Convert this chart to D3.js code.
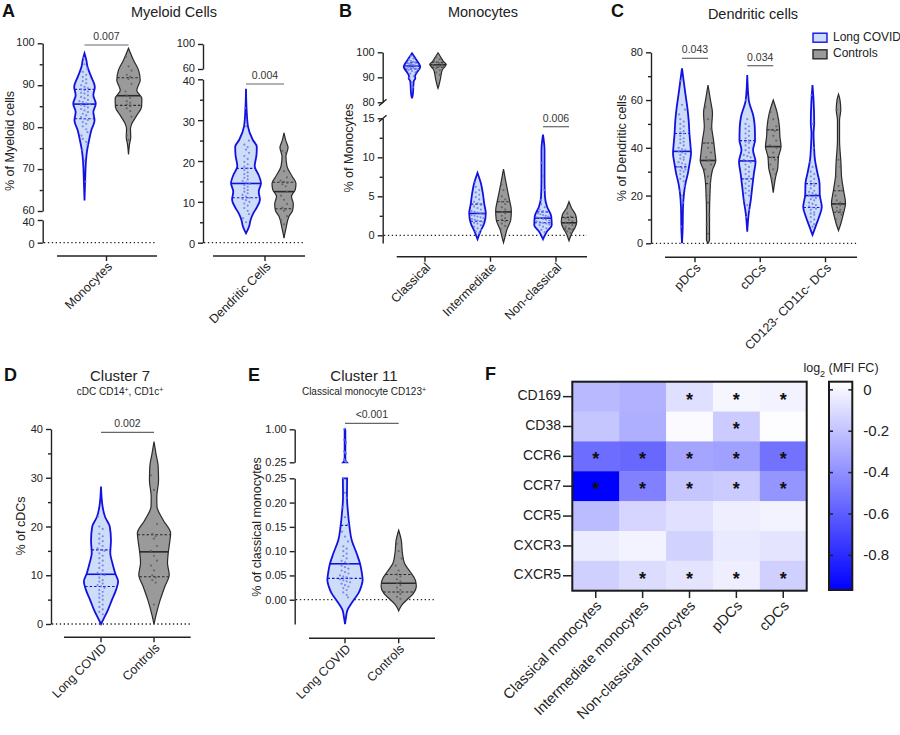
<!DOCTYPE html>
<html>
<head>
<meta charset="utf-8">
<style>
    body { margin: 0; background: #fff; }
    svg { font-family: "Liberation Sans", Arial, sans-serif; }
    .axis .domain, .axis line { stroke: #222; stroke-width: 1.4px; }
    .axis text { font-size: 11px; fill: #222; }
    .minor .domain { display: none; }
</style>
</head>
<body>
<svg width="900" height="735"></svg>
<script src="https://d3js.org/d3.v7.min.js"></script>
<script>
// ---------- data ----------
// shapes: [value, relative half-width]; stats: [median, q1, q3]

// Panel A - Myeloid cells
const aCategories = ["Monocytes", "Dendritic Cells"];
const aMonoLC = [96.5, 95, 94, 93.2, 92.5, 92, 91.4, 91, 90.5, 90, 89.6, 89.3, 89, 88.8, 88.5, 88.2, 88, 87.6, 87.2, 86.9, 86.5, 86.2, 86, 85.7, 85.5, 85.3, 85, 84.7, 84.3, 84, 83.6, 83.2, 82.8, 82.4, 82, 81.7, 81.2, 80.8, 80.2, 79.5, 78.8, 78, 77.2, 76.5, 75.8, 74.5, 72, 67];
const aMonoCtrl = [96.8, 94.5, 93.5, 92.5, 92, 91.5, 90.3, 88.5, 87.6, 87, 86.2, 85.8, 85.4, 85, 84.5, 83.8, 82.5, 78, 77];
const aMonoLCShape = [[97.6, 0], [96, 0.12], [94.4, 0.2], [92, 0.45], [89.6, 0.69], [87.6, 0.59], [85.6, 0.75], [83.6, 0.59], [81.6, 0.67], [79.2, 0.45], [76.8, 0.3], [74.4, 0.17], [72, 0.1], [68, 0.05], [62.5, 0]];
const aMonoCtrlShape = [[98.8, 0], [96, 0.33], [93.6, 0.67], [91.2, 0.78], [88.8, 0.55], [86.8, 0.89], [84.8, 0.87], [82.8, 0.55], [80.8, 0.22], [79.6, 0.13], [77.6, 0.15], [76, 0.07], [73.5, 0]];
const aMonoLCStats = [85.5, 82, 89];
const aMonoCtrlStats = [87.5, 85.2, 91.8];

const aDcLC = [33, 28.5, 25, 24, 23.4, 22.8, 22, 21.2, 20.5, 19.8, 19.2, 18.6, 18.2, 17.8, 17.2, 16.8, 16.3, 15.9, 15.5, 15.1, 14.7, 14.4, 14.1, 13.7, 13.3, 12.9, 12.5, 12.1, 11.7, 11.3, 11, 10.7, 10.4, 10, 9.6, 9.1, 8.5, 7.8, 7, 6, 5];
const aDcCtrl = [22.5, 22, 17.5, 16, 15.2, 14.9, 14.6, 14.3, 13.8, 12.5, 11.5, 10.5, 9.5, 8.6, 8.2, 7.8, 6.5, 5.5, 4.5];
const aDcLCShape = [[37.7, 0], [32, 0.05], [28.5, 0.13], [25.2, 0.45], [23.5, 0.72], [21.5, 0.7], [18.7, 0.58], [16.5, 0.85], [14.6, 1.0], [12.5, 0.85], [10.5, 0.93], [8.5, 0.7], [7.3, 0.5], [5.5, 0.3], [3.9, 0.2], [2.3, 0]];
const aDcCtrlShape = [[26.9, 0], [25, 0.12], [23.3, 0.27], [21.1, 0.13], [18.7, 0.2], [16.2, 0.55], [14.5, 0.8], [13, 0.75], [11.3, 0.5], [9.5, 0.62], [8, 0.58], [6.4, 0.33], [3.5, 0.13], [1.1, 0]];
const aDcLCStats = [14.5, 11, 18.2];
const aDcCtrlStats = [12.5, 8.3, 14.8];

// Panel B - Monocytes
const bCategories = ["Classical", "Intermediate", "Non-classical"];
const bClassLC = [98.5, 97.5, 97, 96.5, 96.2, 96, 95.7, 95.5, 95.3, 95.1, 94.9, 94.7, 94.5, 94.3, 94.1, 93.9, 93.7, 93.5, 93.2, 92.9, 92.5, 92, 91.5, 90.5, 89.8, 88, 86];
const bClassCtrl = [98, 97.2, 96.5, 96, 95.6, 95.3, 95, 94.7, 94.4, 94, 93.5, 92.8, 92, 91];
const bClassLCShape = [[99.6, 0], [97.6, 0.37], [95.6, 0.74], [94.2, 0.92], [92.2, 0.59], [90.5, 0.33], [89.6, 0.37], [88.5, 0.2], [87.6, 0.17], [83.6, 0.11], [81.6, 0]];
const bClassCtrlShape = [[99.8, 0], [98.2, 0.28], [96.2, 0.64], [95.2, 0.92], [92.9, 0.47], [89.6, 0.28], [86.9, 0.11], [85.6, 0]];
const bClassLCStats = [94.5, 93.3, 95.8];
const bClassCtrlStats = [95, 94, 96];

const bInterLC = [6.8, 6.2, 5.8, 5.5, 5.2, 4.9, 4.6, 4.3, 4.1, 3.9, 3.7, 3.5, 3.3, 3.1, 3, 2.9, 2.8, 2.7, 2.6, 2.5, 2.4, 2.3, 2.2, 2.1, 2, 1.9, 1.8, 1.7, 1.6, 1.5, 1.3, 1.1, 0.9, 0.7, 0.5, 0.3];
const bInterCtrl = [6.5, 5.8, 5, 4.6, 4.3, 4, 3.6, 3.3, 3, 2.8, 2.5, 2.2, 2, 1.8, 1.5, 1.2, 0.8];
const bInterLCShape = [[8.0, 0], [6.7, 0.37], [5.4, 0.59], [4.1, 0.74], [2.8, 0.92], [1.5, 0.74], [0.5, 0.33], [-0.5, 0]];
const bInterCtrlShape = [[8.5, 0], [7.1, 0.22], [5.8, 0.44], [4.5, 0.67], [3.2, 0.87], [2.0, 0.81], [0.7, 0.37], [-0.2, 0.17], [-0.95, 0]];
const bInterLCStats = [2.8, 1.8, 4.0];
const bInterCtrlStats = [3.0, 1.9, 4.3];

const bNonLC = [9.3, 7.6, 5.8, 4.5, 4, 3.6, 3.3, 3.1, 3, 2.8, 2.7, 2.6, 2.5, 2.4, 2.3, 2.2, 2.1, 2, 1.9, 1.8, 1.7, 1.6, 1.5, 1.4, 1.3, 1.1, 0.9, 0.7, 0.4];
const bNonCtrl = [3.5, 2.8, 2.4, 2.2, 2, 1.8, 1.6, 1.5, 1.3, 1.1, 0.9, 0.7, 0.5, 0.3];
const bNonLCShape = [[12.9, 0], [10.9, 0.17], [7.1, 0.17], [4.9, 0.22], [3.7, 0.44], [2.4, 0.92], [1.3, 0.97], [0.5, 0.44], [-0.5, 0]];
const bNonCtrlShape = [[4.3, 0], [3.5, 0.28], [2.6, 0.74], [1.7, 0.86], [0.9, 0.64], [0.3, 0.33], [-0.7, 0]];
const bNonLCStats = [2.2, 1.6, 3.0];
const bNonCtrlStats = [1.6, 0.8, 2.3];

// Panel C - Dendritic cells
const cCategories = ["pDCs", "cDCs", "CD123- CD11c- DCs"];
const cPdcLC = [68, 58, 56, 54, 52, 51, 50, 49, 48, 47, 46.5, 46, 45, 44, 43.5, 42.5, 42, 41, 40, 39.5, 39, 38.5, 38, 37.5, 37, 36, 35.5, 35, 34, 33.5, 33, 32, 31.5, 31, 30.5, 30, 29, 28, 27, 26, 24, 22, 20, 17, 7];
const cPdcCtrl = [57, 52, 48, 42, 40, 38, 36, 35, 34.5, 33, 31, 28, 25, 20, 17, 12, 8, 4];
const cPdcLCShape = [[73.3, 0], [67, 0.21], [62.8, 0.35], [57.2, 0.55], [51.6, 0.7], [46.1, 0.78], [40.5, 0.9], [37.7, 0.95], [33.5, 0.8], [29.3, 0.62], [25.1, 0.37], [20.9, 0.21], [15.3, 0.11], [5, 0.06], [0, 0]];
const cPdcCtrlShape = [[66.3, 0], [60, 0.26], [54.5, 0.47], [48.8, 0.39], [43.3, 0.58], [37.7, 0.74], [34.6, 0.82], [30.7, 0.47], [26.5, 0.29], [20.9, 0.21], [12.6, 0.16], [1.4, 0.16], [0, 0]];
const cPdcLCStats = [38.5, 32, 46];
const cPdcCtrlStats = [34.7, 25, 42];

const cCdcLC = [60, 52, 50, 49, 48, 47, 46, 45, 44, 43, 42.5, 42, 41, 40, 39, 38, 37, 36.5, 36, 35, 34.5, 34, 33, 32, 31, 30, 29, 28, 27, 26, 25, 24, 23, 22, 21, 20, 18, 16, 14, 11];
const cCdcCtrl = [55, 52, 49, 47.5, 47, 45, 43, 41, 40.5, 40, 38, 36, 35, 33, 31, 29, 27];
const cCdcLCShape = [[70.5, 0], [60, 0.16], [53, 0.66], [48.8, 0.79], [43.3, 0.82], [39.1, 0.61], [34.2, 0.87], [29.3, 0.7], [23.7, 0.53], [18.1, 0.37], [12.6, 0.16], [4.9, 0]];
const cCdcCtrlShape = [[60, 0], [54.5, 0.42], [48.8, 0.65], [44.7, 0.7], [40.5, 0.82], [36.3, 0.56], [31.4, 0.47], [27.9, 0.26], [21.2, 0]];
const cCdcLCStats = [34.5, 27, 43];
const cCdcCtrlStats = [40.5, 36, 47.5];

const cDnLC = [62, 50, 40, 34, 32, 30, 29, 28, 27, 26, 25, 24.5, 24, 23, 22, 21.5, 21, 20.5, 20, 19.5, 19, 18.5, 18, 17, 16.5, 16, 15.5, 15, 14.5, 14, 13, 12.5, 12, 11, 10, 9, 8, 7];
const cDnCtrl = [56, 35, 32, 28, 24, 22, 20, 18, 17, 16.5, 16, 15, 14, 13.5, 13, 12, 10];
const cDnLCShape = [[66.3, 0], [60, 0.11], [50.3, 0.18], [46.1, 0.11], [40.5, 0.16], [34.9, 0.26], [29.3, 0.53], [25.1, 0.74], [20.2, 0.77], [15.3, 0.98], [11.1, 0.7], [7, 0.32], [3.5, 0]];
const cDnCtrlShape = [[62.5, 0], [60, 0.16], [55.8, 0.24], [51.6, 0.11], [43.3, 0.11], [33.5, 0.26], [27.9, 0.32], [22.3, 0.53], [16.7, 0.74], [12.6, 0.53], [8.4, 0.26], [5.3, 0]];
const cDnLCStats = [20, 15, 25];
const cDnCtrlStats = [16.5, 13, 22];

// Panel D - Cluster 7
const groups = ["Long COVID", "Controls"];
const dLC = [22, 20, 19.5, 18.5, 18, 17.5, 17, 16.5, 16, 15.5, 15.2, 15, 14.5, 14, 13.5, 13, 12.5, 12, 11.5, 11, 10.5, 10.2, 10, 9.5, 9, 8.7, 8.3, 8, 7.7, 7.4, 7, 6.6, 6.2, 5.8, 5.4, 5, 4.5, 4, 3.5, 3, 2.5, 2];
const dCtrl = [30.5, 27.5, 20.5, 18.5, 18, 17.5, 16, 15, 14, 13, 12, 11, 10, 9.5, 9, 8.5, 4];
const dLCShape = [[28.2, 0], [24.1, 0.09], [22, 0.23], [20, 0.5], [17.2, 0.57], [14.5, 0.53], [12.5, 0.65], [10.4, 0.81], [8.7, 0.98], [7, 0.86], [4.9, 0.62], [2.9, 0.4], [1.2, 0.17], [0, 0]];
const dCtrlShape = [[37.4, 0], [35, 0.11], [32.3, 0.24], [29.5, 0.26], [26.1, 0.16], [24.1, 0.17], [21.3, 0.53], [18.6, 0.95], [16.6, 0.89], [14.5, 0.81], [12.5, 0.77], [10.1, 0.87], [7.7, 0.62], [4.9, 0.35], [2.2, 0.14], [0, 0]];
const dLCStats = [10.2, 7.7, 15.2];
const dCtrlStats = [14.8, 9.7, 18.3];

// Panel E - Cluster 11
const eLC = [0.25, 0.22, 0.21, 0.19, 0.17, 0.155, 0.14, 0.13, 0.12, 0.11, 0.105, 0.1, 0.095, 0.09, 0.085, 0.08, 0.077, 0.074, 0.07, 0.067, 0.064, 0.06, 0.057, 0.054, 0.05, 0.048, 0.046, 0.044, 0.042, 0.04, 0.038, 0.036, 0.033, 0.03, 0.027, 0.024, 0.02, 0.015, 0.01, 0.005];
const eLCHigh = [1.0, 0.76, 0.72, 0.68, 0.5, 0.47, 0.45, 0.32, 0.3, 0.28, 0.27, 0.26];
const eCtrl = [0.115, 0.1, 0.085, 0.07, 0.06, 0.052, 0.048, 0.042, 0.038, 0.034, 0.03, 0.025, 0.02, 0.016, 0.012, 0.006, 0.002];
const eLCShape = [[0.25, 0.12], [0.212, 0.11], [0.178, 0.17], [0.15, 0.25], [0.123, 0.37], [0.095, 0.65], [0.075, 0.83], [0.054, 0.94], [0.04, 0.98], [0.027, 0.9], [0.013, 0.74], [-0.004, 0.42], [-0.021, 0.14], [-0.038, 0.05], [-0.05, 0]];
const eLCHighShape = [[1.0, 0], [0.98, 0.02], [0.3, 0.02], [0.25, 0.1]];
const eCtrlShape = [[0.143, 0], [0.123, 0.14], [0.095, 0.21], [0.075, 0.32], [0.058, 0.63], [0.04, 0.93], [0.027, 0.98], [0.013, 0.82], [0, 0.46], [-0.011, 0.17], [-0.023, 0]];
const eLCStats = [0.074, 0.044, 0.153];
const eCtrlStats = [0.034, 0.016, 0.052];

// Panel F - heatmap
const heatRows = ["CD169", "CD38", "CCR6", "CCR7", "CCR5", "CXCR3", "CXCR5"];
const heatCols = ["Classical monocytes", "Intermediate monocytes", "Non-classical monocytes", "pDCs", "cDCs"];
const heatValues = [
    [-0.24, -0.27, -0.09, 0.0, -0.01],
    [-0.19, -0.28, 0.02, -0.17, 0.03],
    [-0.54, -0.56, -0.32, -0.34, -0.52],
    [-0.97, -0.46, -0.19, -0.17, -0.38],
    [-0.23, -0.13, -0.08, -0.03, -0.01],
    [-0.04, -0.01, -0.14, -0.05, -0.07],
    [-0.15, -0.10, -0.07, -0.03, -0.15]
];
const heatStars = [
    [0, 0, 1, 1, 1],
    [0, 0, 0, 1, 0],
    [1, 1, 1, 1, 1],
    [1, 1, 1, 1, 1],
    [0, 0, 0, 0, 0],
    [0, 0, 0, 0, 0],
    [0, 1, 1, 1, 1]
];
const colorbarTicks = [0, -0.2, -0.4, -0.6, -0.8];

// ---------- drawing ----------
const svg = d3.select("svg");
const BLUE = "#1212e0", BLUE_FILL = "#cddcf8", BLUE_DOT = "#6b7be6";
const GRAY_STROKE = "#2a2a2a", GRAY_FILL = "#9a9a9a", GRAY_DOT = "#5e5e5e";

function hwAt(shape, v) {
    for (let i = 0; i < shape.length - 1; i++) {
        const a = shape[i], b = shape[i + 1];
        if (v <= a[0] && v >= b[0]) {
            const t = (a[0] - v) / (a[0] - b[0] || 1);
            return a[1] + t * (b[1] - a[1]);
        }
    }
    return 0;
}

function violin(g, y, cx, maxHW, shape, values, stats, lc) {
    const area = d3.area().curve(d3.curveMonotoneY)
        .y(d => y(d[0]))
        .x0(d => cx - d[1] * maxHW)
        .x1(d => cx + d[1] * maxHW);
    g.append("path").attr("d", area(shape))
        .attr("fill", lc ? BLUE_FILL : GRAY_FILL)
        .attr("stroke", lc ? BLUE : GRAY_STROKE)
        .attr("stroke-width", lc ? 1.8 : 1.2);
    if (stats) {
        stats.forEach((s, i) => {
            const w = hwAt(shape, s) * maxHW;
            g.append("line")
                .attr("x1", cx - w).attr("x2", cx + w)
                .attr("y1", y(s)).attr("y2", y(s))
                .attr("stroke", lc ? BLUE : GRAY_STROKE)
                .attr("stroke-width", i === 0 ? 1.6 : 1.1)
                .attr("stroke-dasharray", i === 0 ? null : "2.5,2");
        });
    }
    // simple deterministic swarm of the points
    const pts = values.map(v => ({ v, py: y(v) })).sort((a, b) => a.py - b.py);
    const bins = [];
    let cur = null;
    pts.forEach(p => {
        if (cur && p.py - cur[0].py < 3.2) cur.push(p);
        else { cur = [p]; bins.push(cur); }
    });
    bins.forEach((b, bi) => {
        const hw = Math.max(1, hwAt(shape, b[0].v) * maxHW * 0.75);
        const step = b.length > 1 ? Math.min(3.4, 2 * hw / (b.length - 1)) : 0;
        const shift = b.length === 1 ? ((bi % 3) - 1) * Math.min(hw, 3) : 0;
        b.forEach((p, i) => {
            g.append("circle")
                .attr("cx", cx + shift + (i - (b.length - 1) / 2) * step)
                .attr("cy", p.py)
                .attr("r", 1.1)
                .attr("fill", lc ? BLUE_DOT : GRAY_DOT)
                .attr("opacity", 0.85);
        });
    });
}

function yAxis(g, x, scale, ticks, minor, fmt, dy) {
    const ax = g.append("g").attr("class", "axis").attr("transform", `translate(${x},0)`)
        .call(d3.axisLeft(scale).tickValues(ticks).tickSizeInner(5).tickSizeOuter(0)
            .tickPadding(3).tickFormat(fmt || d3.format("d")));
    if (dy) ax.selectAll(".tick text").attr("transform", `translate(0,${dy})`);
    if (minor) {
        g.append("g").attr("class", "axis minor").attr("transform", `translate(${x},0)`)
            .call(d3.axisLeft(scale).tickValues(minor).tickSizeInner(3).tickSizeOuter(0).tickFormat(""));
    }
}

function yTitle(g, x, y, text) {
    g.append("text").attr("transform", `translate(${x},${y}) rotate(-90)`)
        .attr("text-anchor", "middle").attr("font-size", 12.5).attr("fill", "#222").text(text);
}

function catAxis(g, y, x0, x1, xs, labels) {
    g.append("line").attr("x1", x0).attr("x2", x1).attr("y1", y).attr("y2", y)
        .attr("stroke", "#222").attr("stroke-width", 1.5);
    labels.forEach(l => {
        const t = xs(l);
        g.append("line").attr("x1", t).attr("x2", t).attr("y1", y).attr("y2", y + 5)
            .attr("stroke", "#222").attr("stroke-width", 1.4);
        g.append("text").attr("transform", `translate(${t + 4},${y + 9}) rotate(-45)`)
            .attr("text-anchor", "end").attr("dominant-baseline", "middle")
            .attr("font-size", 12.5).attr("fill", "#222").text(l);
    });
}

function zeroLine(g, y, x0, x1) {
    g.append("line").attr("x1", x0).attr("x2", x1).attr("y1", y).attr("y2", y)
        .attr("stroke", "#222").attr("stroke-width", 1.3).attr("stroke-dasharray", "1.3,2.6");
}

function sig(g, x0, x1, y, text) {
    g.append("line").attr("x1", x0).attr("x2", x1).attr("y1", y).attr("y2", y)
        .attr("stroke", "#666").attr("stroke-width", 1.2);
    g.append("text").attr("x", (x0 + x1) / 2).attr("y", y - 5).attr("text-anchor", "middle")
        .attr("font-size", 10.5).attr("fill", "#333").text(text);
}

function letter(x, y, t) {
    svg.append("text").attr("x", x).attr("y", y).attr("font-size", 18).attr("font-weight", "bold")
        .attr("fill", "#111").text(t);
}

function title(x, y, t, size) {
    svg.append("text").attr("x", x).attr("y", y).attr("text-anchor", "middle")
        .attr("font-size", size || 14.5).attr("fill", "#222").text(t);
}

// ---- Panel A ----
letter(2, 17, "A");
title(174, 17, "Myeloid Cells");
{
    const g = svg.append("g");
    // monocytes subplot
    const yU = d3.scaleLinear().domain([60, 100]).range([211, 43.3]);
    const yL = d3.scaleLinear().domain([0, 40]).range([242.7, 220]);
    yAxis(g, 42.7, yU, [60, 70, 80, 90, 100], [65, 75, 85, 95], null, -1.5);
    yAxis(g, 42.7, yL, [0, 40], null, null, 1.5);
    yTitle(g, 14, 141, "% of Myeloid cells");
    zeroLine(g, yL(0), 44, 157);
    const xs = d3.scalePoint().domain([aCategories[0]]).range([106.5, 106.5]);
    catAxis(g, 256, 57, 157, xs, [aCategories[0]]);
    violin(g, yU, xs(aCategories[0]) - 22, 15, aMonoLCShape, aMonoLC, aMonoLCStats, true);
    violin(g, yU, xs(aCategories[0]) + 22, 15, aMonoCtrlShape, aMonoCtrl, aMonoCtrlStats, false);
    sig(g, 84.5, 128.5, 45, "0.007");

    // dendritic cells subplot
    const yU2 = d3.scaleLinear().domain([60, 100]).range([69, 44]);
    const yL2 = d3.scaleLinear().domain([0, 40]).range([242.7, 79.3]);
    yAxis(g, 203, yU2, [60, 100], null, null, -1.5);
    yAxis(g, 203, yL2, [0, 10, 20, 30, 40], [5, 15, 25, 35], null, 1.5);
    zeroLine(g, yL2(0), 204, 305);
    const xs2 = d3.scalePoint().domain([aCategories[1]]).range([265, 265]);
    catAxis(g, 256, 213, 305, xs2, [aCategories[1]]);
    violin(g, yL2, xs2(aCategories[1]) - 19, 15, aDcLCShape, aDcLC, aDcLCStats, true);
    violin(g, yL2, xs2(aCategories[1]) + 19, 15, aDcCtrlShape, aDcCtrl, aDcCtrlStats, false);
    sig(g, 246, 284, 84, "0.004");
}

// ---- Panel B ----
letter(339, 17, "B");
title(483, 17, "Monocytes");
{
    const g = svg.append("g");
    const yU = d3.scaleLinear().domain([80, 100]).range([102.3, 52.3]);
    const yL = d3.scaleLinear().domain([-1, 15]).range([243.1, 118.3]);
    yAxis(g, 382.7, yU, [80, 90, 100]);
    yAxis(g, 382.7, yL, [0, 5, 10, 15], [2.5, 7.5, 12.5]);
    [[102.3], [118.3]].forEach(([yy]) => {
        g.append("line").attr("x1", 379).attr("x2", 386.5).attr("y1", yy + 3.5).attr("y2", yy - 3)
            .attr("stroke", "#222").attr("stroke-width", 1.4);
    });
    yTitle(g, 353, 148, "% of Monocytes");
    zeroLine(g, yL(0), 384, 587);
    const xs = d3.scalePoint().domain(bCategories).range([425, 556]);
    catAxis(g, 256.7, 396.7, 587, xs, bCategories);
    const off = 13, mw = 9;
    violin(g, yU, xs("Classical") - off, mw, bClassLCShape, bClassLC, bClassLCStats, true);
    violin(g, yU, xs("Classical") + off, mw, bClassCtrlShape, bClassCtrl, bClassCtrlStats, false);
    violin(g, yL, xs("Intermediate") - off, mw, bInterLCShape, bInterLC, bInterLCStats, true);
    violin(g, yL, xs("Intermediate") + off, mw, bInterCtrlShape, bInterCtrl, bInterCtrlStats, false);
    violin(g, yL, xs("Non-classical") - off, mw, bNonLCShape, bNonLC, bNonLCStats, true);
    violin(g, yL, xs("Non-classical") + off, mw, bNonCtrlShape, bNonCtrl, bNonCtrlStats, false);
    sig(g, xs("Non-classical") - off, xs("Non-classical") + off, 126.7, "0.006");
}

// ---- Panel C ----
letter(611, 17, "C");
title(753, 19, "Dendritic cells");
{
    const g = svg.append("g");
    const y = d3.scaleLinear().domain([0, 80]).range([243.3, 52.3]);
    yAxis(g, 651, y, [0, 20, 40, 60, 80], [10, 30, 50, 70]);
    yTitle(g, 626, 148, "% of Dendritic cells");
    zeroLine(g, y(0), 652, 857);
    const xs = d3.scalePoint().domain(cCategories).range([695, 825.5]);
    catAxis(g, 257.3, 665, 857, xs, cCategories);
    const off = 13, mw = 9.5;
    violin(g, y, xs("pDCs") - off, mw, cPdcLCShape, cPdcLC, cPdcLCStats, true);
    violin(g, y, xs("pDCs") + off, mw, cPdcCtrlShape, cPdcCtrl, cPdcCtrlStats, false);
    violin(g, y, xs("cDCs") - off, mw, cCdcLCShape, cCdcLC, cCdcLCStats, true);
    violin(g, y, xs("cDCs") + off, mw, cCdcCtrlShape, cCdcCtrl, cCdcCtrlStats, false);
    violin(g, y, xs(cCategories[2]) - off, mw, cDnLCShape, cDnLC, cDnLCStats, true);
    violin(g, y, xs(cCategories[2]) + off, mw, cDnCtrlShape, cDnCtrl, cDnCtrlStats, false);
    sig(g, xs("pDCs") - off, xs("pDCs") + off, 58.3, "0.043");
    sig(g, xs("cDCs") - off, xs("cDCs") + off, 65.7, "0.034");

    // legend
    groups.forEach((n, i) => {
        const yy = 37.7 + i * 16.6;
        g.append("rect").attr("x", 813).attr("y", yy - 4.5).attr("width", 14).attr("height", 9)
            .attr("fill", i === 0 ? BLUE_FILL : GRAY_FILL)
            .attr("stroke", i === 0 ? BLUE : GRAY_STROKE).attr("stroke-width", 1.4);
        g.append("text").attr("x", 833).attr("y", yy).attr("dominant-baseline", "middle")
            .attr("font-size", 12).attr("fill", "#222").text(n);
    });
}

// ---- Panel D ----
letter(4, 381, "D");
title(120, 381, "Cluster 7", 15);
{
    const sub = svg.append("text").attr("x", 120).attr("y", 395).attr("text-anchor", "middle")
        .attr("font-size", 10).attr("fill", "#222");
    sub.append("tspan").text("cDC CD14");
    sub.append("tspan").attr("baseline-shift", "super").attr("font-size", 7).text("+");
    sub.append("tspan").text(", CD1c");
    sub.append("tspan").attr("baseline-shift", "super").attr("font-size", 7).text("+");

    const g = svg.append("g");
    const y = d3.scaleLinear().domain([0, 40]).range([624, 429]);
    yAxis(g, 51, y, [0, 10, 20, 30, 40], [5, 15, 25, 35]);
    yTitle(g, 25, 526, "% of cDCs");
    zeroLine(g, y(0), 52, 191);
    const xs = d3.scalePoint().domain(groups).range([101, 154]);
    catAxis(g, 637.3, 64, 190.7, xs, groups);
    violin(g, y, xs(groups[0]), 17.5, dLCShape, dLC, dLCStats, true);
    violin(g, y, xs(groups[1]), 17.5, dCtrlShape, dCtrl, dCtrlStats, false);
    sig(g, xs(groups[0]), xs(groups[1]), 432.3, "0.002");
}

// ---- Panel E ----
letter(248, 381, "E");
title(364, 381, "Cluster 11", 15);
{
    const sub = svg.append("text").attr("x", 364).attr("y", 395).attr("text-anchor", "middle")
        .attr("font-size", 10).attr("fill", "#222");
    sub.append("tspan").text("Classical monocyte CD123");
    sub.append("tspan").attr("baseline-shift", "super").attr("font-size", 7).text("+");

    const g = svg.append("g");
    const yU = d3.scaleLinear().domain([0.25, 1.0]).range([462.3, 429.3]);
    const yL = d3.scaleLinear().domain([-0.05, 0.25]).range([624, 478.3]);
    const f2 = d3.format(".2f");
    yAxis(g, 294.7, yU, [0.25, 1.0], null, f2);
    yAxis(g, 294.7, yL, [0, 0.05, 0.1, 0.15, 0.2, 0.25], null, f2);
    yTitle(g, 261, 527, "% of classical monocytes");
    zeroLine(g, yL(0), 296, 436);
    const xs = d3.scalePoint().domain(groups).range([345, 398.7]);
    catAxis(g, 638.3, 309, 435, xs, groups);
    violin(g, yU, xs(groups[0]), 18, eLCHighShape, eLCHigh, null, true);
    violin(g, yL, xs(groups[0]), 18, eLCShape, eLC, eLCStats, true);
    violin(g, yL, xs(groups[1]), 18, eCtrlShape, eCtrl, eCtrlStats, false);
    sig(g, xs(groups[0]), xs(groups[1]), 423.3, "<0.001");
}

// ---- Panel F ----
letter(485, 380, "F");
{
    const g = svg.append("g");
    const x = d3.scaleBand().domain(heatCols).range([572.3, 806.7]);
    const y = d3.scaleBand().domain(heatRows).range([381.7, 590.7]);
    const color = d3.scaleLinear().domain([-0.97, 0.037]).range(["#0000ff", "#ffffff"]).clamp(true);

    heatRows.forEach((r, i) => {
        heatCols.forEach((c, j) => {
            g.append("rect").attr("x", x(c)).attr("y", y(r))
                .attr("width", x.bandwidth() + 0.5).attr("height", y.bandwidth() + 0.5)
                .attr("fill", color(heatValues[i][j]));
            if (heatStars[i][j]) {
                g.append("text").attr("x", x(c) + x.bandwidth() / 2).attr("y", y(r) + y.bandwidth() / 2 + 9)
                    .attr("text-anchor", "middle").attr("font-size", 18).attr("font-weight", "bold")
                    .attr("fill", "#111").text("*");
            }
        });
    });
    g.append("rect").attr("x", 572.3).attr("y", 381.7).attr("width", 234.4).attr("height", 209)
        .attr("fill", "none").attr("stroke", "#1a1a1a").attr("stroke-width", 2);

    heatRows.forEach(r => {
        const yy = y(r) + y.bandwidth() / 2;
        g.append("line").attr("x1", 563).attr("x2", 572).attr("y1", yy).attr("y2", yy)
            .attr("stroke", "#222").attr("stroke-width", 1.5);
        g.append("text").attr("x", 561).attr("y", yy).attr("text-anchor", "end")
            .attr("dominant-baseline", "middle").attr("font-size", 14).attr("fill", "#222").text(r);
    });
    heatCols.forEach(c => {
        const xx = x(c) + x.bandwidth() / 2;
        g.append("line").attr("x1", xx).attr("x2", xx).attr("y1", 591).attr("y2", 598)
            .attr("stroke", "#222").attr("stroke-width", 1.5);
        g.append("text").attr("transform", `translate(${xx + 4},${604}) rotate(-45)`)
            .attr("text-anchor", "end").attr("dominant-baseline", "middle")
            .attr("font-size", 14.5).attr("fill", "#222").text(c);
    });

    // colour bar
    const cb = d3.scaleLinear().domain([-0.97, 0.037]).range([590, 381.7]);
    const defs = svg.append("defs");
    const lg = defs.append("linearGradient").attr("id", "cbar").attr("x1", 0).attr("y1", 1).attr("x2", 0).attr("y2", 0);
    lg.append("stop").attr("offset", "0%").attr("stop-color", "#0000ff");
    lg.append("stop").attr("offset", "100%").attr("stop-color", "#ffffff");
    g.append("rect").attr("x", 829).attr("y", 381.7).attr("width", 23.3).attr("height", 208.3)
        .attr("fill", "url(#cbar)").attr("stroke", "#1a1a1a").attr("stroke-width", 2);
    const fmt = d => d === 0 ? "0" : d.toFixed(1);
    const ax = g.append("g").attr("transform", "translate(852.3,0)")
        .call(d3.axisRight(cb).tickValues(colorbarTicks).tickSizeInner(-4).tickSizeOuter(0).tickPadding(11).tickFormat(fmt));
    ax.select(".domain").remove();
    ax.selectAll("line").attr("stroke", "#222").attr("stroke-width", 1.5);
    ax.selectAll("text").attr("font-size", 15).attr("fill", "#222");
    const ax2 = g.append("g").attr("transform", "translate(829,0)")
        .call(d3.axisLeft(cb).tickValues(colorbarTicks).tickSizeInner(-4).tickSizeOuter(0).tickFormat(""));
    ax2.select(".domain").remove();
    ax2.selectAll("line").attr("stroke", "#222").attr("stroke-width", 1.5);

    const ttl = g.append("text").attr("x", 841).attr("y", 372).attr("text-anchor", "middle")
        .attr("font-size", 12.5).attr("fill", "#222");
    ttl.append("tspan").text("log");
    ttl.append("tspan").attr("baseline-shift", "sub").attr("font-size", 9).text("2");
    ttl.append("tspan").text(" (MFI FC)");
}
</script>
</body>
</html>
